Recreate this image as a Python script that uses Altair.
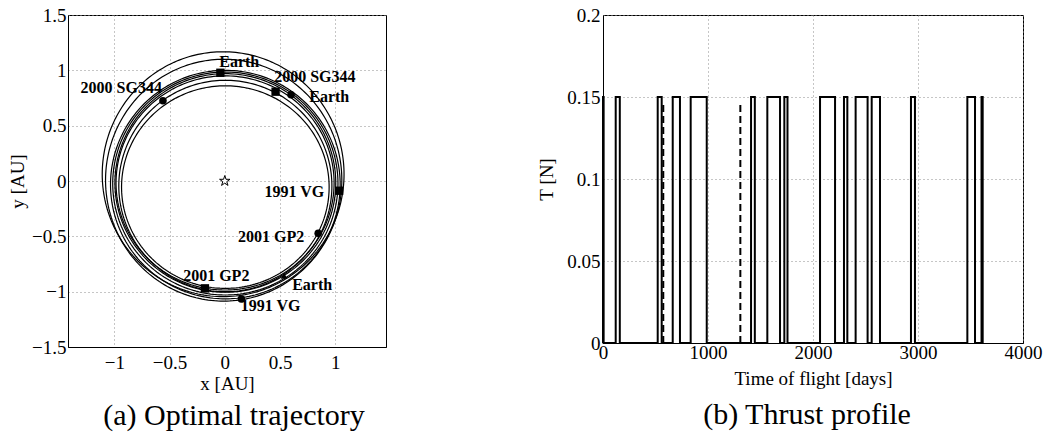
import altair as alt
import numpy as np
import pandas as pd

# ---------------- Panel (a): optimal trajectory ----------------
# each revolution drawn as an ellipse, given by its extents (AU)
loop_top    = [1.168, 1.100, 1.000, 0.985, 0.970, 0.950, 0.910, 0.860]
loop_bottom = [-1.045, -1.085, -1.065, -1.030, -1.005, -0.985, -1.000, -0.970]
loop_left   = [-1.110, -1.080, -1.035, -1.015, -0.995, -0.985, -0.960, -0.935]
loop_right  = [1.080, 1.060, 1.045, 1.025, 1.005, 0.990, 0.970, 0.945]

marker_x     = [-0.04, 0.46, 1.036, -0.18, 0.60, -0.56, 0.846, 0.15, 0.537]
marker_y     = [0.978, 0.807, -0.088, -0.97, 0.78, 0.725, -0.472, -1.066, -0.858]
marker_shape = ["square", "square", "square", "square",
                "circle", "circle", "circle", "circle", "triangle-up"]

label_text  = ["Earth", "2000 SG344", "Earth", "2000 SG344", "1991 VG",
               "2001 GP2", "Earth", "2001 GP2", "1991 VG"]
label_x     = [-0.05, 0.447, 0.765, -0.569, 0.90, 0.72, 0.61, -0.377, 0.145]
label_y     = [1.075, 0.94, 0.762, 0.837, -0.097, -0.509, -0.94, -0.858, -1.13]
label_align = ["left", "left", "left", "right", "right", "right", "left", "left", "left"]

sun_x = [0.0]
sun_y = [0.0]

x_ticks_a = [-1, -0.5, 0, 0.5, 1]
y_ticks_a = [-1.5, -1, -0.5, 0, 0.5, 1, 1.5]

# ---------------- Panel (b): thrust profile ----------------
thrust_on  = [0, 121, 521, 664, 835, 1410, 1565, 1727, 2067, 2295, 2406, 2559, 2933, 3470, 3605]
thrust_off = [6, 160, 559, 733, 988, 1446, 1686, 1757, 2210, 2327, 2520, 2638, 2971, 3543, 3616]
thrust_level = 0.15
thrust_end = 3620
dash_t = [574, 1308]
dash_top = 0.146

x_ticks_b = [0, 1000, 2000, 3000, 4000]
y_ticks_b = [0, 0.05, 0.1, 0.15, 0.2]

# ---------------- build tables ----------------
ang = np.linspace(0, 2 * np.pi, 241)
rows = []
for i in range(len(loop_top)):
    cx = (loop_left[i] + loop_right[i]) / 2
    cy = (loop_top[i] + loop_bottom[i]) / 2
    rx = (loop_right[i] - loop_left[i]) / 2
    ry = (loop_top[i] - loop_bottom[i]) / 2
    for k, a in enumerate(ang):
        rows.append({"loop": i, "idx": k, "x": cx + rx * np.cos(a), "y": cy + ry * np.sin(a)})
orbit_df = pd.DataFrame(rows)
marker_df = pd.DataFrame({"x": marker_x, "y": marker_y, "shape": marker_shape})
label_df = pd.DataFrame({"x": label_x, "y": label_y, "label": label_text, "align": label_align})
sun_df = pd.DataFrame({"x": sun_x, "y": sun_y})

tp = []
for on, off in zip(thrust_on, thrust_off):
    tp += [(on, 0.0), (on, thrust_level), (off, thrust_level), (off, 0.0)]
tp.append((thrust_end, 0.0))
thrust_df = pd.DataFrame({"t": [p[0] for p in tp], "T": [p[1] for p in tp],
                          "idx": list(range(len(tp)))})
dash_rows = []
for j, t in enumerate(dash_t):
    dash_rows += [{"id": j, "t": t, "T": 0.0}, {"id": j, "t": t, "T": dash_top}]
dash_df = pd.DataFrame(dash_rows)

SERIF = "Liberation Serif"
minus_expr = "replace(format(datum.value, '~g'), '-', '\u2212')"

W_A, H_A = 318, 332
W_B, H_B = 420, 328


def xa():
    return alt.X("x:Q", scale=alt.Scale(domain=[-1.42, 1.46], nice=False, zero=False),
                 axis=alt.Axis(values=x_ticks_a, title="x [AU]", labelExpr=minus_expr,
                               labelPadding=6, labelFlush=False, titleX=W_A / 2, titleY=36,
                               titleBaseline="middle", labelFont=SERIF))


def ya():
    return alt.Y("y:Q", scale=alt.Scale(domain=[-1.5, 1.5], nice=False, zero=False),
                 axis=alt.Axis(values=y_ticks_a, title="y [AU]", labelExpr=minus_expr,
                               labelPadding=2, titleX=-50.5, titleY=H_A / 2,
                               titleBaseline="middle", titleAngle=270, labelFont=SERIF))


orbits = alt.Chart(orbit_df).mark_line(color="black", strokeWidth=1.2).encode(
    x=xa(), y=ya(), detail="loop:N", order="idx:Q")

markers = alt.Chart(marker_df).mark_point(filled=True, color="black", opacity=1).encode(
    x=xa(), y=ya(),
    shape=alt.Shape("shape:N", scale=None, legend=None),
    size=alt.Size("shape:N", scale=alt.Scale(domain=["square", "circle", "triangle-up"],
                                             range=[70, 45, 150]), legend=None))

sun = alt.Chart(sun_df).mark_point(shape="M0,-1L0.2245,-0.309L0.951,-0.309L0.363,0.118L0.588,0.809L0,0.382L-0.588,0.809L-0.363,0.118L-0.951,-0.309L-0.2245,-0.309Z",
                                   size=120, filled=False, color="black", strokeWidth=1,
                                   fill="white", fillOpacity=1).encode(x=xa(), y=ya())

labels_left = alt.Chart(label_df).transform_filter(alt.datum.align == "left").mark_text(
    align="left", baseline="middle", font=SERIF, fontWeight="bold", fontSize=16,
    color="black").encode(x=xa(), y=ya(), text="label:N")
labels_right = alt.Chart(label_df).transform_filter(alt.datum.align == "right").mark_text(
    align="right", baseline="middle", font=SERIF, fontWeight="bold", fontSize=16,
    color="black").encode(x=xa(), y=ya(), text="label:N")

panel_a = alt.layer(orbits, markers, sun, labels_left, labels_right).properties(
    width=W_A, height=H_A,
    title=alt.TitleParams("(a) Optimal trajectory", orient="bottom", anchor="middle",
                          font=SERIF, fontSize=30, fontWeight="normal", color="black",
                          offset=8, dx=7))


def xb():
    return alt.X("t:Q", scale=alt.Scale(domain=[0, 4000], nice=False, zero=False),
                 axis=alt.Axis(values=x_ticks_b, title="Time of flight [days]", format="d",
                               labelPadding=0, labelFlush=False, titleX=W_B / 2, titleY=35,
                               titleBaseline="middle", labelFont=SERIF))


def yb():
    return alt.Y("T:Q", scale=alt.Scale(domain=[0, 0.2], nice=False, zero=False),
                 axis=alt.Axis(values=y_ticks_b, title="T [N]", format="~g",
                               labelPadding=3, titleX=-57, titleY=H_B / 2,
                               titleBaseline="middle", titleAngle=270, labelFont=SERIF))


thrust = alt.Chart(thrust_df).mark_line(color="black", strokeWidth=2).encode(
    x=xb(), y=yb(), order="idx:Q")
dashed = alt.Chart(dash_df).mark_line(color="black", strokeWidth=2, strokeDash=[7, 4]).encode(
    x=xb(), y=yb(), detail="id:N")

panel_b = alt.layer(thrust, dashed).properties(
    width=W_B, height=H_B,
    title=alt.TitleParams("(b) Thrust profile", orient="bottom", anchor="middle",
                          font=SERIF, fontSize=30, fontWeight="normal", color="black",
                          offset=12, dx=-6))

chart = alt.hconcat(panel_a, panel_b, spacing=217, bounds="flush").properties(
    padding={"left": 8, "top": 5, "right": 4, "bottom": 4},
    background="white"
).configure(
    font=SERIF
).configure_title(
    font=SERIF
).configure_view(
    stroke="black", strokeWidth=1
).configure_axis(
    labelFont=SERIF, labelFontSize=19, labelColor="black",
    titleFont=SERIF, titleFontSize=19, titleFontWeight="normal", titleColor="black",
    domainColor="black", domainWidth=1, ticks=False, tickSize=0,
    grid=True, gridColor="#8c8c8c", gridDash=[1, 3], gridWidth=1
)

chart.save("out.html", embed_options={"renderer": "svg", "actions": False})
